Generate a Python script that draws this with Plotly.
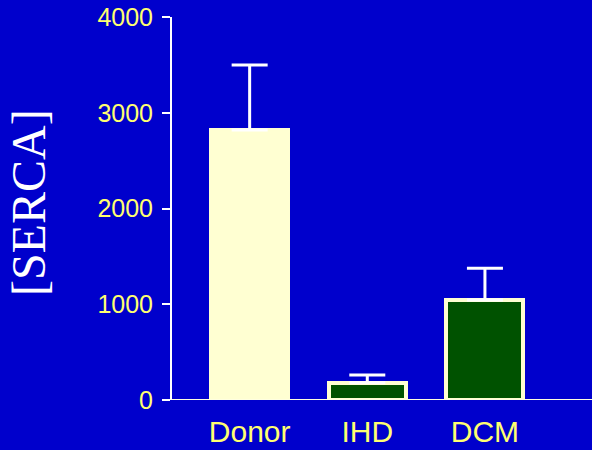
import plotly.graph_objects as go

# SERCA levels per patient group
groups = ["Donor", "IHD", "DCM"]
serca = [2820, 180, 1045]
serca_err = [680, 80, 330]
bar_colors = ["#FFFFD2", "#005200", "#005200"]

y_ticks = [0, 1000, 2000, 3000, 4000]

bg = "#0000CC"
label_yellow = "#FFFF70"

fig = go.Figure()
fig.add_trace(go.Bar(
    x=list(range(len(groups))),
    y=serca,
    width=0.655,
    marker=dict(color=bar_colors, line=dict(color="#FFFFD2", width=4)),
    error_y=dict(type="data", symmetric=False, array=serca_err,
                 arrayminus=[0] * len(serca), color="white",
                 thickness=3, width=18),
    showlegend=False,
))

fig.update_layout(
    width=592, height=450,
    margin=dict(l=172, r=0, t=17, b=50),
    paper_bgcolor=bg, plot_bgcolor=bg,
    font=dict(family="Liberation Sans, Arial, sans-serif", color=label_yellow),
    bargap=0,
)
fig.update_xaxes(
    range=[-0.66, 2.91], automargin=False,
    tickmode="array", tickvals=list(range(len(groups))), ticktext=groups,
    tickfont=dict(size=30, color=label_yellow),
    showgrid=False, zeroline=False, showline=False, ticks="",
    ticklabelstandoff=11,
)
fig.update_yaxes(
    range=[0, 4000], automargin=False,
    tickmode="array", tickvals=y_ticks, ticktext=[str(v) for v in y_ticks],
    tickfont=dict(size=25, color=label_yellow),
    showgrid=False, zeroline=False,
    showline=True, linecolor="white", linewidth=2,
    ticks="outside", tickcolor="white", tickwidth=2, ticklen=8,
    ticklabelstandoff=4,
)
# baseline along the bottom of the bars
fig.add_shape(type="line", xref="paper", yref="y", x0=0, x1=1, y0=0, y1=0,
              line=dict(color="#FFFFE0", width=2), layer="above")

fig.add_annotation(
    text="[SERCA]", xref="paper", yref="paper", x=-0.41, y=0.515,
    xanchor="left", showarrow=False, textangle=-90,
    font=dict(family="Liberation Serif, Times New Roman, serif", size=48, color="white"),
)

fig.write_html("out.html")
